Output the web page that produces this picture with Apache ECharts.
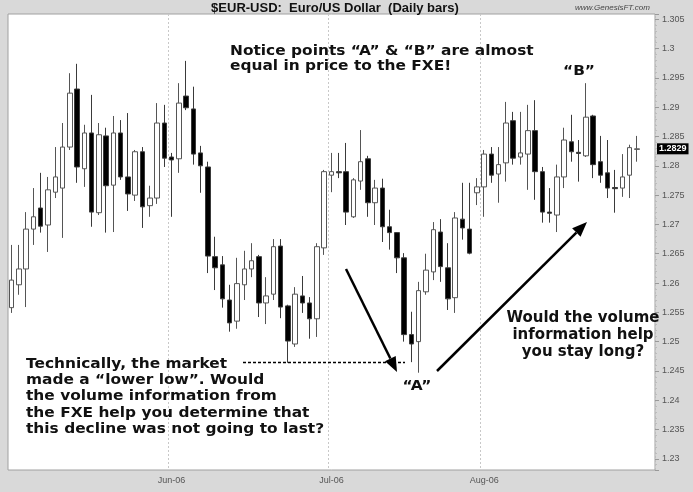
<!DOCTYPE html>
<html>
<head>
<meta charset="utf-8">
<script src="https://cdn.jsdelivr.net/npm/echarts@6/dist/echarts.min.js"></script>
<style>
  html, body { margin: 0; padding: 0; background: #d9d9d9; }
  #chart { width: 693px; height: 492px; }
</style>
</head>
<body>
<div id="chart"></div>
<script>
// daily bars, EUR/USD, May 2 - Aug 30 2006
const opens = [
  1.2558, 1.2597, 1.2624, 1.2692, 1.2728, 1.2699, 1.2755, 1.2762, 1.2832, 1.2931,
  1.2795, 1.2856, 1.2720, 1.2851, 1.2767, 1.2856, 1.2781, 1.2750, 1.2824, 1.2732,
  1.2745, 1.2873, 1.2815, 1.2812, 1.2919, 1.2897, 1.2822, 1.2798, 1.2645, 1.2631,
  1.2571, 1.2535, 1.2597, 1.2624, 1.2645, 1.2566, 1.2581, 1.2663, 1.2561, 1.2496,
  1.2578, 1.2566, 1.2539, 1.2660, 1.2784, 1.2790, 1.2790, 1.2713, 1.2774, 1.2812,
  1.2737, 1.2762, 1.2696, 1.2686, 1.2643, 1.2512, 1.2500, 1.2585, 1.2619, 1.2687,
  1.2626, 1.2575, 1.2709, 1.2692, 1.2754, 1.2764, 1.2820, 1.2786, 1.2805, 1.2877,
  1.2815, 1.2820, 1.2860, 1.2790, 1.2721, 1.2716, 1.2781, 1.2841, 1.2823, 1.2817,
  1.2885, 1.2807, 1.2788, 1.2763, 1.2762, 1.2784, 1.2828
]
const closes = [
  1.2605, 1.2624, 1.2692, 1.2713, 1.2697, 1.2759, 1.2781, 1.2832, 1.2924, 1.2798,
  1.2856, 1.2721, 1.2853, 1.2766, 1.2856, 1.2781, 1.2752, 1.2824, 1.2730, 1.2745,
  1.2873, 1.2813, 1.2810, 1.2907, 1.2899, 1.2820, 1.2800, 1.2646, 1.2626, 1.2573,
  1.2532, 1.2599, 1.2624, 1.2638, 1.2566, 1.2578, 1.2662, 1.2559, 1.2501, 1.2581,
  1.2566, 1.2539, 1.2662, 1.2790, 1.2790, 1.2788, 1.2721, 1.2776, 1.2807, 1.2737,
  1.2762, 1.2696, 1.2686, 1.2643, 1.2512, 1.2496, 1.2587, 1.2622, 1.2691, 1.2628,
  1.2573, 1.2711, 1.2694, 1.2651, 1.2764, 1.2820, 1.2784, 1.2802, 1.2873, 1.2813,
  1.2822, 1.2860, 1.2790, 1.2721, 1.2719, 1.2781, 1.2844, 1.2824, 1.2821, 1.2883,
  1.2802, 1.2784, 1.2762, 1.2761, 1.2781, 1.2831, 1.2829
]
const lows = [
  1.2549, 1.2580, 1.2559, 1.2665, 1.2686, 1.2653, 1.2745, 1.2677, 1.2827, 1.2771,
  1.2764, 1.2696, 1.2716, 1.2686, 1.2687, 1.2776, 1.2723, 1.2740, 1.2694, 1.2713,
  1.2735, 1.2798, 1.2713, 1.2788, 1.2895, 1.2802, 1.2754, 1.2617, 1.2588, 1.2558,
  1.2517, 1.2522, 1.2571, 1.2610, 1.2542, 1.2530, 1.2571, 1.2540, 1.2464, 1.2491,
  1.2549, 1.2505, 1.2508, 1.2648, 1.2755, 1.2779, 1.2699, 1.2711, 1.2759, 1.2713,
  1.2699, 1.2670, 1.2657, 1.2617, 1.2500, 1.2465, 1.2447, 1.2580, 1.2605, 1.2602,
  1.2554, 1.2549, 1.2674, 1.2649, 1.2733, 1.2713, 1.2771, 1.2737, 1.2773, 1.2802,
  1.2802, 1.2759, 1.2742, 1.2703, 1.2703, 1.2687, 1.2762, 1.2807, 1.2773, 1.2815,
  1.2779, 1.2771, 1.2745, 1.2720, 1.2747, 1.2745, 1.2807
]
const highs = [
  1.2665, 1.2665, 1.2721, 1.2762, 1.2788, 1.2781, 1.2832, 1.2873, 1.2958, 1.2974,
  1.2870, 1.2921, 1.2873, 1.2865, 1.2885, 1.2878, 1.2890, 1.2827, 1.2832, 1.2766,
  1.2907, 1.2904, 1.2822, 1.2941, 1.2979, 1.2935, 1.2834, 1.2807, 1.2679, 1.2646,
  1.2597, 1.2643, 1.2655, 1.2668, 1.2648, 1.2610, 1.2675, 1.2675, 1.2563, 1.2593,
  1.2612, 1.2576, 1.2668, 1.2793, 1.2822, 1.2822, 1.2839, 1.2779, 1.2861, 1.2817,
  1.2776, 1.2778, 1.2725, 1.2687, 1.2651, 1.2551, 1.2602, 1.2650, 1.2704, 1.2709,
  1.2668, 1.2721, 1.2771, 1.2771, 1.2779, 1.2827, 1.2832, 1.2832, 1.2909, 1.2892,
  1.2892, 1.2904, 1.2912, 1.2798, 1.2762, 1.2802, 1.2865, 1.2887, 1.2844, 1.2941,
  1.2887, 1.2851, 1.2844, 1.2793, 1.2820, 1.2836, 1.2851
]
const monthNames = ['Jan', 'Feb', 'Mar', 'Apr', 'May', 'Jun', 'Jul', 'Aug', 'Sep', 'Oct', 'Nov', 'Dec']

// trading days (weekdays), plus two empty slots at the right edge
const dates = []
const d = new Date(2006, 4, 2)
while (dates.length < opens.length + 2) {
  if (d.getDay() !== 0 && d.getDay() !== 6) dates.push(new Date(d))
  d.setDate(d.getDate() + 1)
}
const categories = dates.map((t) => `${t.getFullYear()}-${t.getMonth() + 1}-${t.getDate()}`)
const isMonthStart = (i) =>
  i > 0 && i < opens.length && dates[i].getMonth() !== dates[i - 1].getMonth()
const monthLabel = (i) => `${monthNames[dates[i].getMonth()]}-${String(dates[i].getFullYear()).slice(2)}`

const candles = opens.map((o, i) => [o, closes[i], lows[i], highs[i]])
const lastClose = closes[closes.length - 1]

const chart = echarts.init(document.getElementById('chart'))

const boldFont = 'DejaVu Sans'

function arrow(x1, y1, x2, y2) {
  const a = Math.atan2(y2 - y1, x2 - x1)
  const len = 15
  const w = 6
  const bx = x2 - len * Math.cos(a)
  const by = y2 - len * Math.sin(a)
  return [
    { type: 'line', z: 100, shape: { x1, y1, x2: bx, y2: by }, style: { stroke: '#000', lineWidth: 2.5 } },
    {
      type: 'polygon',
      z: 100,
      shape: {
        points: [
          [x2, y2],
          [bx + w * Math.sin(a), by - w * Math.cos(a)],
          [bx - w * Math.sin(a), by + w * Math.cos(a)],
        ],
      },
      style: { fill: '#000' },
    },
  ]
}

// heavy annotation text, stretched a little to match the wide black face
function note(x, y, text, opts = {}) {
  return {
    type: 'text',
    z: 100,
    x,
    y,
    scaleX: opts.sx || 1.1,
    style: {
      text,
      fill: '#111',
      font: `bold ${opts.size || 14}px "${boldFont}"`,
      lineHeight: opts.lh || 16,
      align: opts.align || 'left',
      verticalAlign: 'top',
    },
  }
}

chart.setOption({
  animation: false,
  backgroundColor: '#d9d9d9',
  grid: {
    left: 8,
    right: 38,
    top: 14,
    bottom: 22,
    show: true,
    backgroundColor: '#fff',
    borderColor: '#a0a0a0',
    borderWidth: 1,
  },
  xAxis: {
    type: 'category',
    data: categories,
    boundaryGap: true,
    axisLine: { show: false },
    axisTick: { show: false },
    axisLabel: {
      interval: (i) => isMonthStart(i),
      formatter: (v, i) => monthLabel(i),
      color: '#555',
      fontSize: 9,
      fontFamily: 'Liberation Sans',
      margin: 6,
    },
    splitLine: {
      show: true,
      interval: (i) => isMonthStart(i),
      lineStyle: { color: '#c8c8c8', type: [2, 2], width: 1 },
    },
  },
  yAxis: {
    type: 'value',
    position: 'right',
    scale: true,
    min: 1.2281,
    max: 1.3059,
    splitNumber: 15,
    axisLine: { show: false },
    axisTick: { show: true, length: 4, lineStyle: { color: '#999' } },
    minorTick: { show: true, splitNumber: 5, length: 2, lineStyle: { color: '#bbb' } },
    splitLine: { show: false },
    axisLabel: {
      color: '#555',
      fontSize: 9,
      fontFamily: 'Liberation Sans',
      margin: 7,
      formatter: (v) => (Math.abs(v * 200 - Math.round(v * 200)) < 1e-6 ? String(+v.toFixed(3)) : ''),
    },
  },
  series: [
    {
      type: 'candlestick',
      data: candles,
      barWidth: 5,
      itemStyle: {
        color: '#fff',
        color0: '#000',
        borderColor: '#555',
        borderColor0: '#3a3a3a',
        borderWidth: 1,
      },
    },
  ],
})

// last price tag on the price axis, placed through the axis scale
const lastY = chart.convertToPixel({ yAxisIndex: 0 }, lastClose)

chart.setOption({
  graphic: [
    {
      type: 'text',
      x: 335,
      y: 8,
      style: {
        text: '$EUR-USD:  Euro/US Dollar  (Daily bars)',
        font: 'bold 13px "Liberation Sans"',
        fill: '#111',
        align: 'center',
        verticalAlign: 'middle',
      },
    },
    {
      type: 'text',
      x: 575,
      y: 8,
      style: {
        text: 'www.GenesisFT.com',
        font: 'italic 8px "Liberation Sans"',
        fill: '#444',
        verticalAlign: 'middle',
      },
    },
    {
      type: 'text',
      z: 100,
      x: 657,
      y: lastY,
      style: {
        text: lastClose.toFixed(4),
        font: 'bold 9px "Liberation Sans"',
        fill: '#fff',
        backgroundColor: '#000',
        padding: [1, 2],
        verticalAlign: 'middle',
      },
    },
    note(230, 44, 'Notice points “A” & “B” are almost\nequal in price to the FXE!', { lh: 15 }),
    note(26, 356, 'Technically, the market\nmade a “lower low”. Would\nthe volume information from\nthe FXE help you determine that\nthis decline was not going to last?', { lh: 16.3 }),
    note(583, 310, 'Would the volume\ninformation help\nyou stay long?', { lh: 17, align: 'center', sx: 1, size: 15 }),
    note(417, 378, '“A”', { align: 'center' }),
    note(579, 63, '“B”', { align: 'center' }),
    {
      type: 'line',
      z: 100,
      shape: { x1: 243, y1: 362.5, x2: 405, y2: 362.5 },
      style: { stroke: '#000', lineWidth: 1.5, lineDash: [3, 2] },
    },
    ...arrow(346, 269, 397, 372),
    ...arrow(437, 371, 587, 222),
  ],
})
</script>
</body>
</html>
